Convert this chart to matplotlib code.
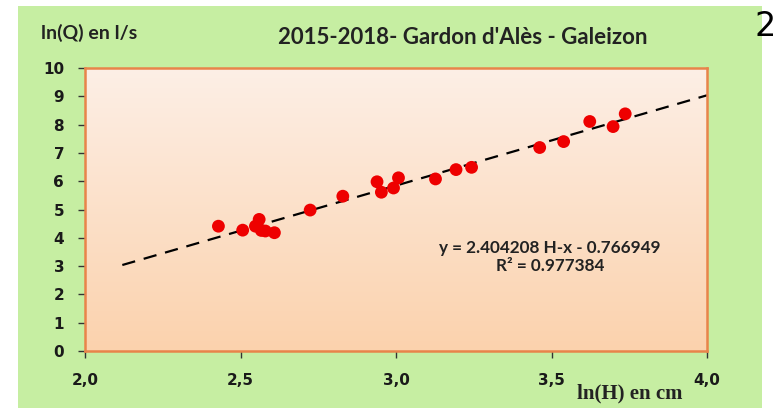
import numpy as np
import matplotlib.pyplot as plt
from matplotlib.patches import Rectangle
from matplotlib.colors import LinearSegmentedColormap

# ln(H) et ln(Q) mesures
ln_h = [2.429, 2.507, 2.548, 2.560, 2.567, 2.580, 2.609, 2.724, 2.829, 2.939, 2.953,
        2.992, 3.008, 3.127, 3.193, 3.243, 3.462, 3.539, 3.623, 3.698, 3.737]
ln_q = [4.41, 4.27, 4.41, 4.65, 4.26, 4.24, 4.18, 4.98, 5.47, 5.98, 5.61,
        5.76, 6.12, 6.08, 6.41, 6.49, 7.19, 7.40, 8.11, 7.93, 8.38]
trend_range = [2.12, 4.0]
x_ticks = [2.0, 2.5, 3.0, 3.5, 4.0]
x_ticklabels = ["2,0", "2,5", "3,0", "3,5", "4,0"]
y_ticks = list(range(0, 11))

eq_text = "y = 2.404208 H-x - 0.766949\nR² = 0.977384"
title = "2015-2018- Gardon d'Alès - Galeizon"

fig = plt.figure(figsize=(7.8, 4.08), dpi=100, facecolor="white")
# cadre vert
fig.patches.append(Rectangle((18 / 780, 0), 744 / 780, 402 / 408, transform=fig.transFigure,
                             facecolor="#c6eea2", edgecolor="none", zorder=-1))

ax = fig.add_axes([85 / 780, 57 / 408, 622 / 780, 283 / 408])
ax.set_zorder(1)
ax.set_facecolor("none")

# fond degrade
grad = np.linspace(0, 1, 256).reshape(-1, 1)
cmap = LinearSegmentedColormap.from_list("peach", ["#fdefe6", "#fbd2ad"])
ax.imshow(grad, aspect="auto", cmap=cmap, extent=[2.0, 4.0, 0, 10], origin="upper", zorder=0)

# droite de tendance
coef = np.polyfit(ln_h, ln_q, 1)
xt = np.array(trend_range)
ax.plot(xt, np.polyval(coef, xt), color="black", lw=1.6, dashes=(6, 4), zorder=2)

ax.scatter(ln_h, ln_q, s=85, color="#ee0000", edgecolors="none", zorder=3)

ax.set_xlim(2.0, 4.0)
ax.set_ylim(0, 10)
ax.set_xticks(x_ticks)
ax.set_xticklabels(x_ticklabels)
ax.set_yticks(y_ticks)
for s in ax.spines.values():
    s.set_color("#e8844a")
    s.set_linewidth(1.8)
ax.tick_params(axis="both", direction="out", length=5, width=1, color="#333333")
ax.tick_params(axis="y", pad=10)
ax.tick_params(axis="x", pad=11)
for lab in ax.get_xticklabels() + ax.get_yticklabels():
    lab.set_fontweight("bold")
    lab.set_fontsize(11)
    lab.set_color("#1a1a1a")

fig.text(550 / 780, 1 - 257 / 408, eq_text, ha="center", va="center", fontsize=12.3,
         fontweight="bold", family="Lato", color="#222222", linespacing=1.1, zorder=5)
fig.text(463 / 780, 1 - 38 / 408, title, ha="center", va="center", fontsize=16,
         fontweight="bold", family="Lato", color="#222222")
fig.text(41 / 780, 1 - 33 / 408, "ln(Q) en l/s", ha="left", va="center", fontsize=14,
         fontweight="bold", family="Lato", color="#222222")
fig.text(630 / 780, 1 - 393 / 408, "ln(H) en cm", ha="center", va="center", fontsize=15,
         fontweight="bold", family="Liberation Serif", color="#222222")
fig.text(765 / 780, 1 - 27 / 408, "2", ha="center", va="center", fontsize=24,
         family="DejaVu Sans", color="black")

fig.savefig("out.png", dpi=100)
